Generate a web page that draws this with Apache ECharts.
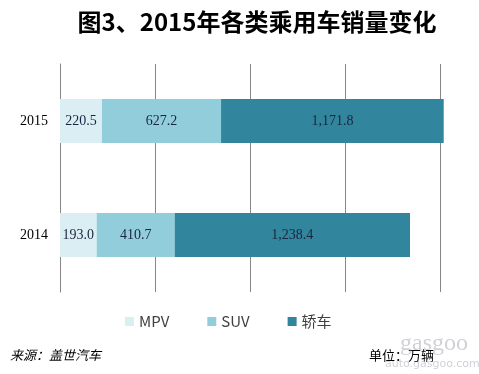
<!DOCTYPE html>
<html><head><meta charset="utf-8">
<script src="https://cdn.jsdelivr.net/npm/echarts@6/dist/echarts.min.js"></script>
<style>html,body{margin:0;padding:0;background:#fff}#c{width:479px;height:374px}</style>
</head><body><div id="c"></div>
<script>
var categories = ['2014', '2015'];
var mpv = [193.0, 220.5];
var suv = [410.7, 627.2];
var sedan = [1238.4, 1171.8];
var seriesNames = ['MPV', 'SUV', '轿车'];
var colors = ['#dbeef4', '#92cddc', '#31859c'];

function fmt(v){
  var s = v.toFixed(1).split('.');
  s[0] = s[0].replace(/\B(?=(\d{3})+(?!\d))/g, ',');
  return s.join('.');
}
var datas = [mpv, suv, sedan];
var chart = echarts.init(document.getElementById('c'));
chart.setOption({
  animation: false,
  color: colors,
  grid: {left: 60, right: 39, top: 64, bottom: 82},
  xAxis: {type: 'value', min: 0, max: 2000, interval: 500,
    axisLine: {show: false}, axisTick: {show: false}, axisLabel: {show: false},
    splitLine: {lineStyle: {color: '#868686', width: 1}}},
  yAxis: {type: 'category', data: categories,
    axisLine: {lineStyle: {color: '#868686'}},
    axisTick: {length: 4, lineStyle: {color: '#868686'}},
    axisLabel: {fontFamily: 'Liberation Serif', fontSize: 14, color: '#000', margin: 12}},
  legend: {left: 120, top: 309, itemWidth: 9, itemHeight: 9, itemGap: 38, icon: 'rect',
    textStyle: {fontFamily: 'Noto Sans CJK SC', fontSize: 15, color: '#404040'},
    data: seriesNames},
  series: seriesNames.map(function(n, i){
    return {name: n, type: 'bar', stack: 'total', barWidth: 44, clip: false,
      data: datas[i],
      label: {show: true, position: 'inside', fontFamily: 'Liberation Serif', fontSize: 14, color: '#1b2440',
        formatter: function(p){ return fmt(p.value); }}};
  }),
  graphic: [
    {type: 'text', x: 257, y: 10, style: {text: '图3、2015年各类乘用车销量变化', textAlign: 'center',
      font: 'bold 24px "Noto Sans CJK SC"', fill: '#000'}},
    {type: 'text', left: 10, top: 349, style: {text: '来源：盖世汽车',
      font: 'italic 13px "Noto Sans CJK SC"', fill: '#000'}},
    {type: 'text', left: 369, top: 349, style: {text: '单位：万辆',
      font: '13px "Noto Sans CJK SC"', fill: '#000'}},
    {type: 'text', left: 400, top: 332, style: {text: 'gasgoo',
      font: '24px "Liberation Serif"', fill: 'rgba(150,150,165,0.45)'}},
    {type: 'text', left: 385, top: 359, style: {text: 'auto.gasgoo.com',
      font: '11px "DejaVu Sans"', fill: 'rgba(150,150,165,0.45)'}}
  ]
});
</script></body></html>
